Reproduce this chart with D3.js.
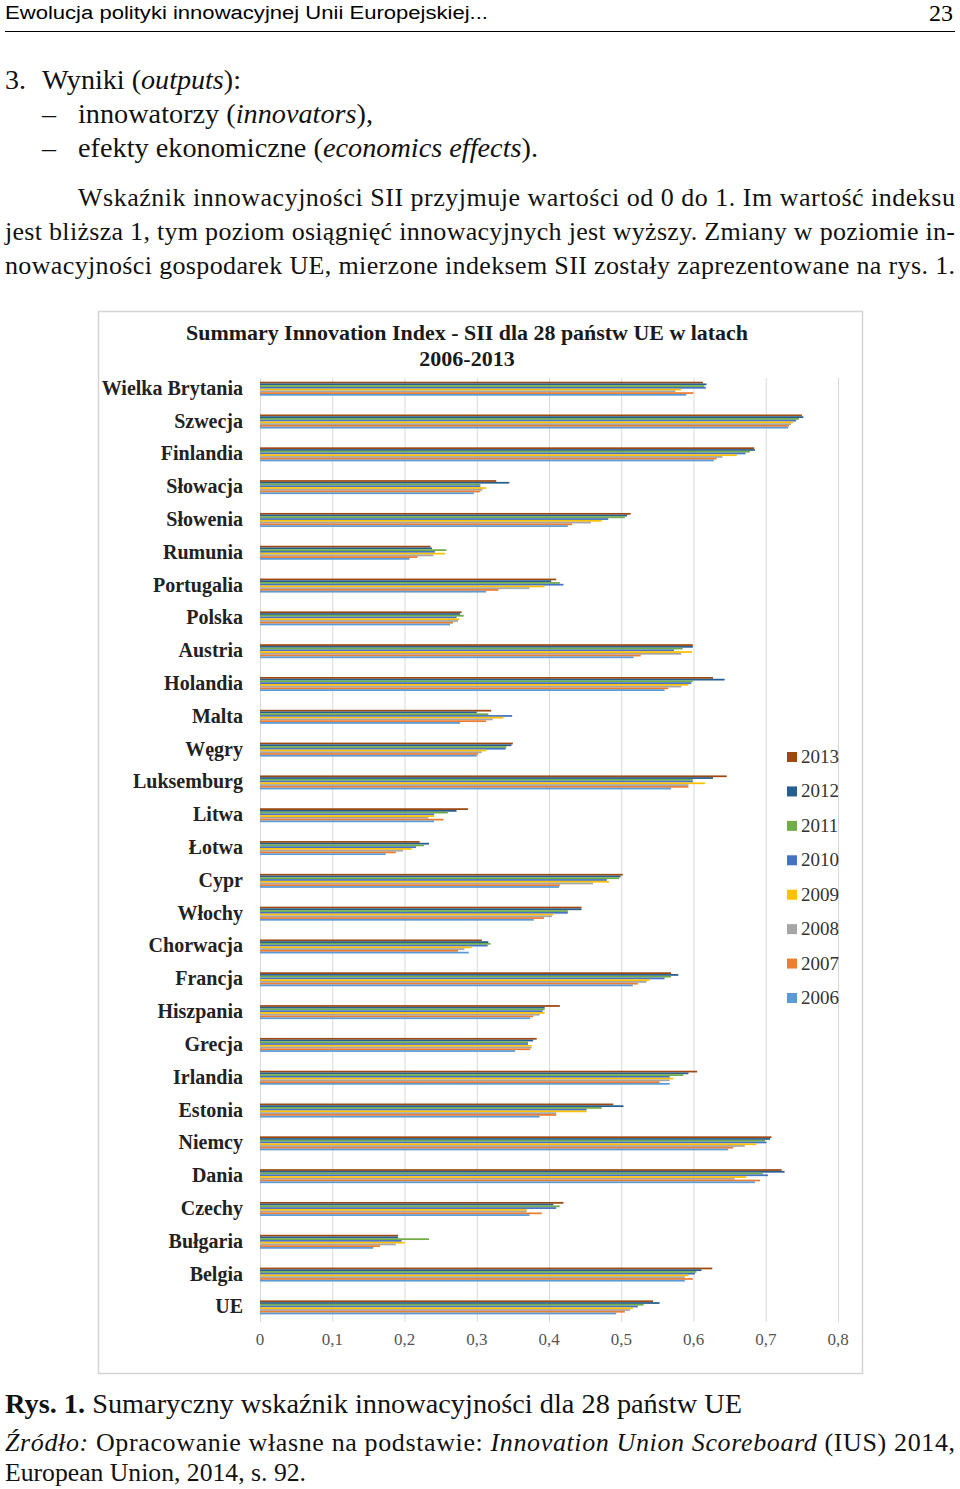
<!DOCTYPE html>
<html>
<head>
<meta charset="utf-8">
<script src="https://cdn.jsdelivr.net/npm/d3@7"></script>
<style>
  html, body { margin: 0; padding: 0; background: #fff; }
  svg { display: block; }
</style>
</head>
<body>
<svg id="page" width="960" height="1489"></svg>
<script>
// ---------- DATA ----------
const categories = ["Wielka Brytania","Szwecja","Finlandia","Słowacja","Słowenia","Rumunia","Portugalia","Polska","Austria","Holandia","Malta","Węgry","Luksemburg","Litwa","Łotwa","Cypr","Włochy","Chorwacja","Francja","Hiszpania","Grecja","Irlandia","Estonia","Niemcy","Dania","Czechy","Bułgaria","Belgia","UE"];
const years = ["2013","2012","2011","2010","2009","2008","2007","2006"];
const sii2013 = [0.613,0.750,0.684,0.327,0.513,0.236,0.410,0.279,0.599,0.627,0.320,0.350,0.646,0.288,0.221,0.502,0.445,0.307,0.569,0.415,0.383,0.605,0.489,0.708,0.722,0.420,0.191,0.626,0.544];
const sii2012 = [0.618,0.752,0.685,0.345,0.508,0.238,0.403,0.277,0.599,0.643,0.300,0.348,0.627,0.272,0.234,0.499,0.445,0.316,0.579,0.394,0.378,0.593,0.503,0.706,0.726,0.406,0.191,0.611,0.553];
const sii2011 = [0.615,0.746,0.678,0.305,0.505,0.258,0.415,0.282,0.585,0.599,0.316,0.341,0.599,0.260,0.227,0.497,0.426,0.319,0.569,0.394,0.371,0.586,0.473,0.699,0.696,0.415,0.234,0.604,0.531];
const sii2010 = [0.617,0.742,0.672,0.305,0.482,0.242,0.420,0.272,0.573,0.597,0.349,0.340,0.599,0.241,0.216,0.480,0.426,0.315,0.560,0.391,0.371,0.567,0.452,0.701,0.703,0.410,0.196,0.602,0.523];
const sii2009 = [0.583,0.738,0.660,0.313,0.473,0.256,0.394,0.276,0.598,0.593,0.337,0.313,0.616,0.241,0.210,0.483,0.406,0.293,0.539,0.394,0.376,0.572,0.452,0.687,0.673,0.369,0.200,0.593,0.516];
const sii2008 = [0.575,0.735,0.640,0.308,0.458,0.240,0.373,0.274,0.583,0.583,0.322,0.307,0.593,0.233,0.198,0.461,0.404,0.283,0.535,0.387,0.376,0.567,0.410,0.671,0.657,0.369,0.188,0.588,0.512];
const sii2007 = [0.600,0.732,0.632,0.305,0.432,0.218,0.330,0.267,0.527,0.565,0.313,0.302,0.593,0.254,0.188,0.415,0.393,0.274,0.523,0.378,0.374,0.553,0.410,0.655,0.692,0.390,0.166,0.599,0.505];
const sii2006 = [0.590,0.731,0.628,0.296,0.426,0.207,0.313,0.263,0.517,0.560,0.277,0.300,0.569,0.241,0.174,0.414,0.379,0.289,0.516,0.374,0.353,0.567,0.387,0.648,0.685,0.373,0.157,0.588,0.493];
const seriesValues = [sii2013, sii2012, sii2011, sii2010, sii2009, sii2008, sii2007, sii2006];
const seriesColors = ["#9e480e","#255e91","#70ad47","#4472c4","#ffc000","#a5a5a5","#ed7d31","#5b9bd5"];
const xTicks = [0,0.1,0.2,0.3,0.4,0.5,0.6,0.7,0.8];
const chartTitle = ["Summary Innovation Index - SII dla 28 państw UE w latach","2006-2013"];

// ---------- PAGE ----------
const svg = d3.select("#page");
const serif = "'Liberation Serif','Times New Roman',serif";
const sans = "'Liberation Sans',Arial,sans-serif";

// running header
svg.append("text").attr("x",5).attr("y",19).attr("font-family",sans).attr("font-size",18)
  .attr("textLength",483).attr("lengthAdjust","spacingAndGlyphs")
  .text("Ewolucja polityki innowacyjnej Unii Europejskiej...");
svg.append("text").attr("x",953).attr("y",21).attr("text-anchor","end").attr("font-family",serif).attr("font-size",24).text("23");
svg.append("line").attr("x1",5).attr("x2",955).attr("y1",31.5).attr("y2",31.5).attr("stroke","#000").attr("stroke-width",1);

// body text
function richLine(x, y, parts, opts={}) {
  const t = svg.append("text").attr("x",x).attr("y",y).attr("font-family",serif).attr("font-size",opts.size||28).attr("fill","#111");
  if (opts.len) t.attr("textLength",opts.len).attr("lengthAdjust",opts.adj||"spacingAndGlyphs");
  parts.forEach(p => {
    const ts = t.append("tspan").text(p.t);
    if (p.i) ts.attr("font-style","italic");
    if (p.b) ts.attr("font-weight","bold");
  });
  return t;
}
richLine(5, 89, [{t:"3."}]);
richLine(42, 89, [{t:"Wyniki ("},{t:"outputs",i:1},{t:"):"}], {len:199});
richLine(42, 123, [{t:"–"}]);
richLine(78, 123, [{t:"innowatorzy ("},{t:"innovators",i:1},{t:"),"}], {len:295});
richLine(42, 157, [{t:"–"}]);
richLine(78, 157, [{t:"efekty ekonomiczne ("},{t:"economics effects",i:1},{t:")."}], {len:460});
richLine(78, 206, [{t:"Wskaźnik innowacyjności SII przyjmuje wartości od 0 do 1. Im wartość indeksu"}], {size:26, len:877, adj:"spacing"});
richLine(5, 240, [{t:"jest bliższa 1, tym poziom osiągnięć innowacyjnych jest wyższy. Zmiany w poziomie in-"}], {size:26, len:950, adj:"spacing"});
richLine(5, 274, [{t:"nowacyjności gospodarek UE, mierzone indeksem SII zostały zaprezentowane na rys. 1."}], {size:26, len:950, adj:"spacing"});

// caption
richLine(5, 1413, [{t:"Rys. 1.",b:1},{t:" Sumaryczny wskaźnik innowacyjności dla 28 państw UE"}], {size:27, len:737});
richLine(5, 1451, [{t:"Źródło:",i:1},{t:" Opracowanie własne na podstawie: "},{t:"Innovation Union Scoreboard",i:1},{t:" (IUS) 2014,"}], {size:26, len:950, adj:"spacing"});
richLine(5, 1481, [{t:"European Union, 2014, s. 92."}], {size:26, len:301});

// ---------- CHART ----------
svg.append("rect").attr("x",98.5).attr("y",311.5).attr("width",764).attr("height",1062)
  .attr("fill","#fff").attr("stroke","#d4d4d4").attr("stroke-width",1.5);

const title = svg.append("text").attr("text-anchor","middle").attr("font-family",serif)
  .attr("font-weight","bold").attr("font-size",22).attr("fill","#1a1a1a");
title.append("tspan").attr("x",467).attr("y",340).attr("textLength",562).attr("lengthAdjust","spacingAndGlyphs").text(chartTitle[0]);
title.append("tspan").attr("x",467).attr("y",366).text(chartTitle[1]);

const x = d3.scaleLinear().domain([0,0.8]).range([260,838]);
const y = d3.scaleBand().domain(categories).range([372.3,1323.8]).padding(0);
const yInner = d3.scaleBand().domain(years).range([y.bandwidth()/2 - 7, y.bandwidth()/2 + 7]).padding(0);

// gridlines
svg.append("g").selectAll("line").data(xTicks).join("line")
  .attr("x1",d=>x(d)+0.5).attr("x2",d=>x(d)+0.5).attr("y1",378).attr("y2",1322)
  .attr("stroke","#d9d9d9").attr("stroke-width",1);

// tick labels
svg.append("g").selectAll("text").data(xTicks).join("text")
  .attr("x",d=>x(d)).attr("y",1345).attr("text-anchor","middle")
  .attr("font-family",serif).attr("font-size",17).attr("fill","#555")
  .text(d => d === 0 ? "0" : d3.format(".1f")(d).replace(".",","));

// bars
const groups = svg.append("g").selectAll("g").data(categories).join("g")
  .attr("transform", c => `translate(0,${y(c)})`);
groups.selectAll("rect").data((c,ci) => years.map((yr,si) => ({yr, si, v: seriesValues[si][ci]})))
  .join("rect")
  .attr("x", x(0))
  .attr("y", d => yInner(d.yr))
  .attr("width", d => x(d.v) - x(0))
  .attr("height", yInner.bandwidth())
  .attr("fill", d => seriesColors[d.si]);

// category labels
svg.append("g").selectAll("text").data(categories).join("text")
  .attr("x",243).attr("y", c => y(c) + y.bandwidth()/2 + 6)
  .attr("text-anchor","end").attr("font-family",serif).attr("font-weight","bold")
  .attr("font-size",20).attr("fill","#222").text(c => c);

// legend
const legendCenters = d3.scaleLinear().domain([0,7]).range([757,998]);
const lg = svg.append("g").selectAll("g").data(years).join("g")
  .attr("transform",(d,i)=>`translate(787,${legendCenters(i)})`);
lg.append("rect").attr("x",0).attr("y",-5).attr("width",10).attr("height",10).attr("fill",(d,i)=>seriesColors[i]);
lg.append("text").attr("x",14).attr("y",6).attr("font-family",serif).attr("font-size",19).attr("fill","#333").text(d=>d);
</script>
</body>
</html>
